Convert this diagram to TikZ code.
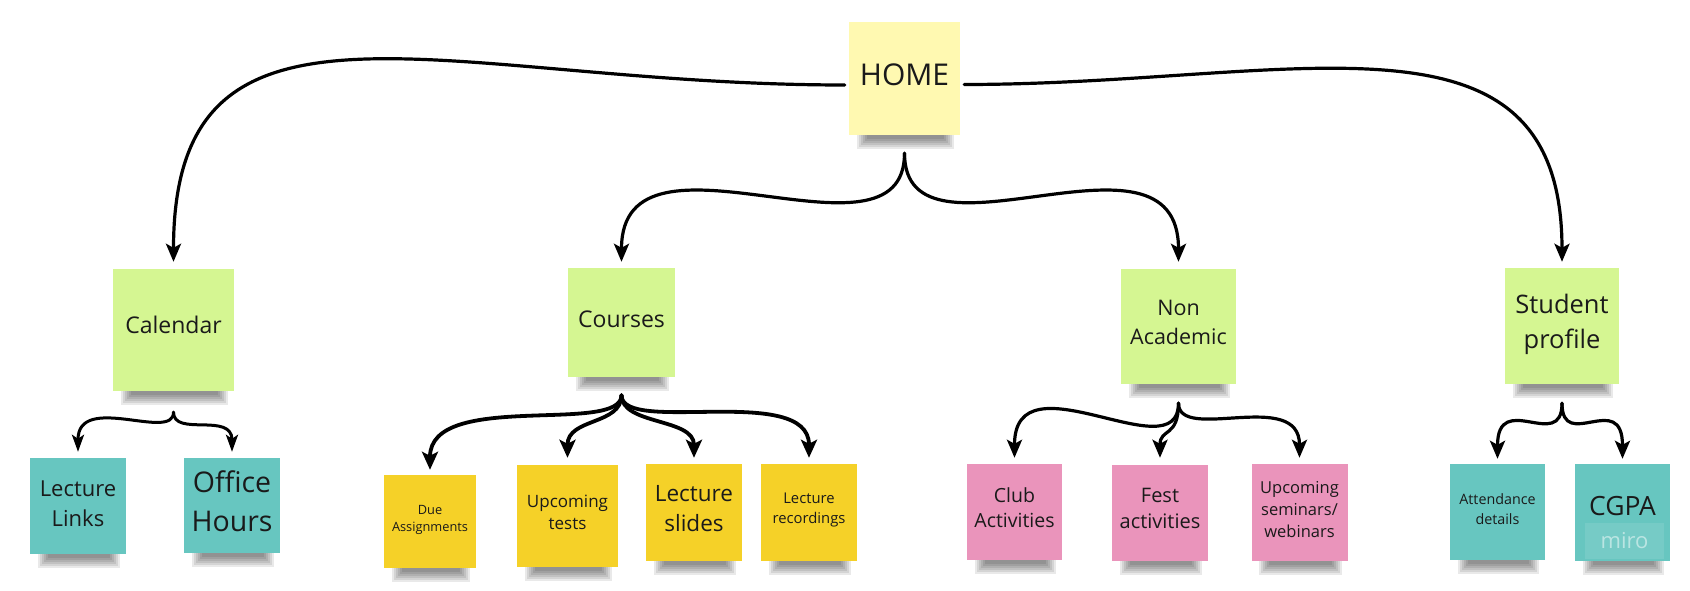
\documentclass[tikz,border=0pt]{standalone}
\usepackage{fontspec}
\setmainfont{Open Sans}
\usetikzlibrary{arrows.meta,calc}
\definecolor{lyellow}{HTML}{FFF9B1}
\definecolor{lgreen}{HTML}{D5F692}
\definecolor{syellow}{HTML}{F5D128}
\definecolor{spink}{HTML}{EA94BB}
\definecolor{scyan}{HTML}{67C6C0}
\definecolor{ink}{HTML}{1A1A1A}
\newcommand{\stickshadow}[1]{%
  \foreach \i in {0,...,5}{%
    \fill[black, opacity=0.085] ($(#1.south west)+(8+2*\i,0)$) rectangle ($(#1.south east)+(-6-2*\i,14-2*\i)$);
  }}
\begin{document}
\begin{tikzpicture}[x=1pt,y=-1pt,
  sticky/.style={inner sep=0pt, align=center, text=ink},
  conn/.style={line width=3.2pt, line cap=round, -{Stealth[length=18pt,width=15pt,inset=4pt]}},
  thinconn/.style={line width=3pt, line cap=round, -{Stealth[length=17pt,width=12pt,inset=4pt]}},
  thickconn/.style={line width=3.8pt, line cap=round, -{Stealth[length=18pt,width=16pt,inset=4pt]}}]
\fill[white] (0,0) rectangle (1690,591);
\useasboundingbox (0,0) rectangle (1690,591);

% top
\node[sticky, fill=lyellow, minimum width=111pt, minimum height=113pt, text depth=8pt, font={\fontsize{30}{40}\selectfont}] (home) at (904.5,78.5) {HOME};

% second level
\node[sticky, fill=lgreen, minimum width=121pt, minimum height=122pt, text depth=10pt, font={\fontsize{23}{31}\selectfont}] (cal) at (173.5,330) {Calendar};
\node[sticky, fill=lgreen, minimum width=107pt, minimum height=109pt, text depth=6pt, font={\fontsize{23}{31}\selectfont}] (crs) at (621.5,322.5) {Courses};
\node[sticky, fill=lgreen, minimum width=115pt, minimum height=115pt, text depth=9pt, font={\fontsize{21.5}{29}\selectfont}] (nonac) at (1178.5,326.5) {Non\\Academic};
\node[sticky, fill=lgreen, minimum width=114pt, minimum height=116pt, text depth=10pt, font={\fontsize{25.5}{35}\selectfont}] (prof) at (1562,326) {Student\\profile};

% third level
\node[sticky, fill=scyan, minimum width=96pt, minimum height=96pt, text depth=5pt, font={\fontsize{22}{30}\selectfont}] (links) at (78,506) {Lecture\\Links};
\node[sticky, fill=scyan, minimum width=96pt, minimum height=95pt, text depth=8pt, font={\fontsize{28.5}{39}\selectfont}] (office) at (232,505.5) {Office\\Hours};
\node[sticky, fill=syellow, minimum width=92pt, minimum height=93pt, text depth=7pt, font={\fontsize{12.8}{17}\selectfont}] (due) at (430,521.5) {Due\\Assignments};
\node[sticky, fill=syellow, minimum width=101pt, minimum height=102pt, text depth=8pt, font={\fontsize{17}{22}\selectfont}] (tests) at (567.5,516) {Upcoming\\tests};
\node[sticky, fill=syellow, minimum width=96pt, minimum height=97pt, text depth=8pt, font={\fontsize{22.5}{30}\selectfont}] (slides) at (694,512.5) {Lecture\\slides};
\node[sticky, fill=syellow, minimum width=96pt, minimum height=97pt, text depth=8pt, font={\fontsize{14.8}{20}\selectfont}] (recs) at (809,512.5) {Lecture\\recordings};
\node[sticky, fill=spink, minimum width=95pt, minimum height=96pt, text depth=9pt, font={\fontsize{19.5}{25}\selectfont}] (club) at (1014.5,512) {Club\\Activities};
\node[sticky, fill=spink, minimum width=96pt, minimum height=96pt, text depth=9pt, font={\fontsize{20}{26}\selectfont}] (fest) at (1160,513) {Fest\\activities};
\node[sticky, fill=spink, minimum width=96pt, minimum height=97pt, text depth=6pt, font={\fontsize{16.5}{22}\selectfont}] (sem) at (1299.5,512.5) {Upcoming\\seminars/\\webinars};
\node[sticky, fill=scyan, minimum width=95pt, minimum height=96pt, text depth=6pt, font={\fontsize{14.3}{20}\selectfont}] (att) at (1497.5,512) {Attendance\\details};
\node[sticky, fill=scyan, minimum width=95pt, minimum height=97pt, text depth=13pt, font={\fontsize{26.5}{36}\selectfont}] (cgpa) at (1622.5,512.5) {CGPA};
\node[inner sep=0pt, fill=white, fill opacity=0.1, text=white, text opacity=0.5, minimum width=79pt, minimum height=36pt, font={\fontsize{22}{26}\selectfont}] (miro) at (1624.5,541) {miro};

% shadows
\foreach \n in {home,cal,crs,nonac,prof,links,office,due,tests,slides,recs,club,fest,sem,att,cgpa}{\stickshadow{\n}}

% stems
\coordinate (homeS) at ($(home.south)+(0,18)$);
\coordinate (calS) at ($(cal.south)+(0,21)$);
\coordinate (crsS) at ($(crs.south)+(0,18)$);
\coordinate (nonacS) at ($(nonac.south)+(0,19)$);
\coordinate (profS) at ($(prof.south)+(0,19)$);

% home connectors
\draw[conn] ($(home.west)+(-4,6.5)$) .. controls +(-400,0) and +(0,-300) .. ($(cal.north)+(0,-7)$);
\draw[conn] ($(home.east)+(4,6)$) .. controls +(330,0) and +(0,-270) .. ($(prof.north)+(0,-6)$);
\draw[conn] (homeS) .. controls +(0,125) and +(0,-152) .. ($(crs.north)+(0,-6)$);
\draw[conn] (homeS) .. controls +(0,125) and +(0,-152) .. ($(nonac.north)+(0,-7)$);

% calendar
\draw[thinconn] (calS) .. controls +(0,30) and +(0,-60) .. ($(links.north)+(0,-6)$);
\draw[thinconn] (calS) .. controls +(0,25) and +(0,-40) .. ($(office.north)+(0,-6)$);

% courses
\draw[thickconn] (crsS) .. controls +(0,40) and +(0,-80) .. ($(due.north)+(0,-5)$);
\draw[thickconn] (crsS) .. controls +(0,30) and +(0,-40) .. ($(tests.north)+(0,-7)$);
\draw[thickconn] (crsS) .. controls +(0,30) and +(0,-40) .. ($(slides.north)+(0,-6)$);
\draw[thickconn] (crsS) .. controls +(0,40) and +(0,-75) .. ($(recs.north)+(0,-6)$);

% non academic
\draw[conn] (nonacS) .. controls +(0,70) and +(0,-105) .. ($(club.north)+(0,-6)$);
\draw[conn] (nonacS) .. controls +(0,35) and +(0,-30) .. ($(fest.north)+(0,-7)$);
\draw[conn] (nonacS) .. controls +(0,40) and +(0,-70) .. ($(sem.north)+(0,-6)$);

% student profile
\draw[conn] (profS) .. controls +(0,50) and +(0,-70) .. ($(att.north)+(0,-5)$);
\draw[conn] (profS) .. controls +(0,50) and +(0,-70) .. ($(cgpa.north)+(0,-5)$);
\end{tikzpicture}
\end{document}
